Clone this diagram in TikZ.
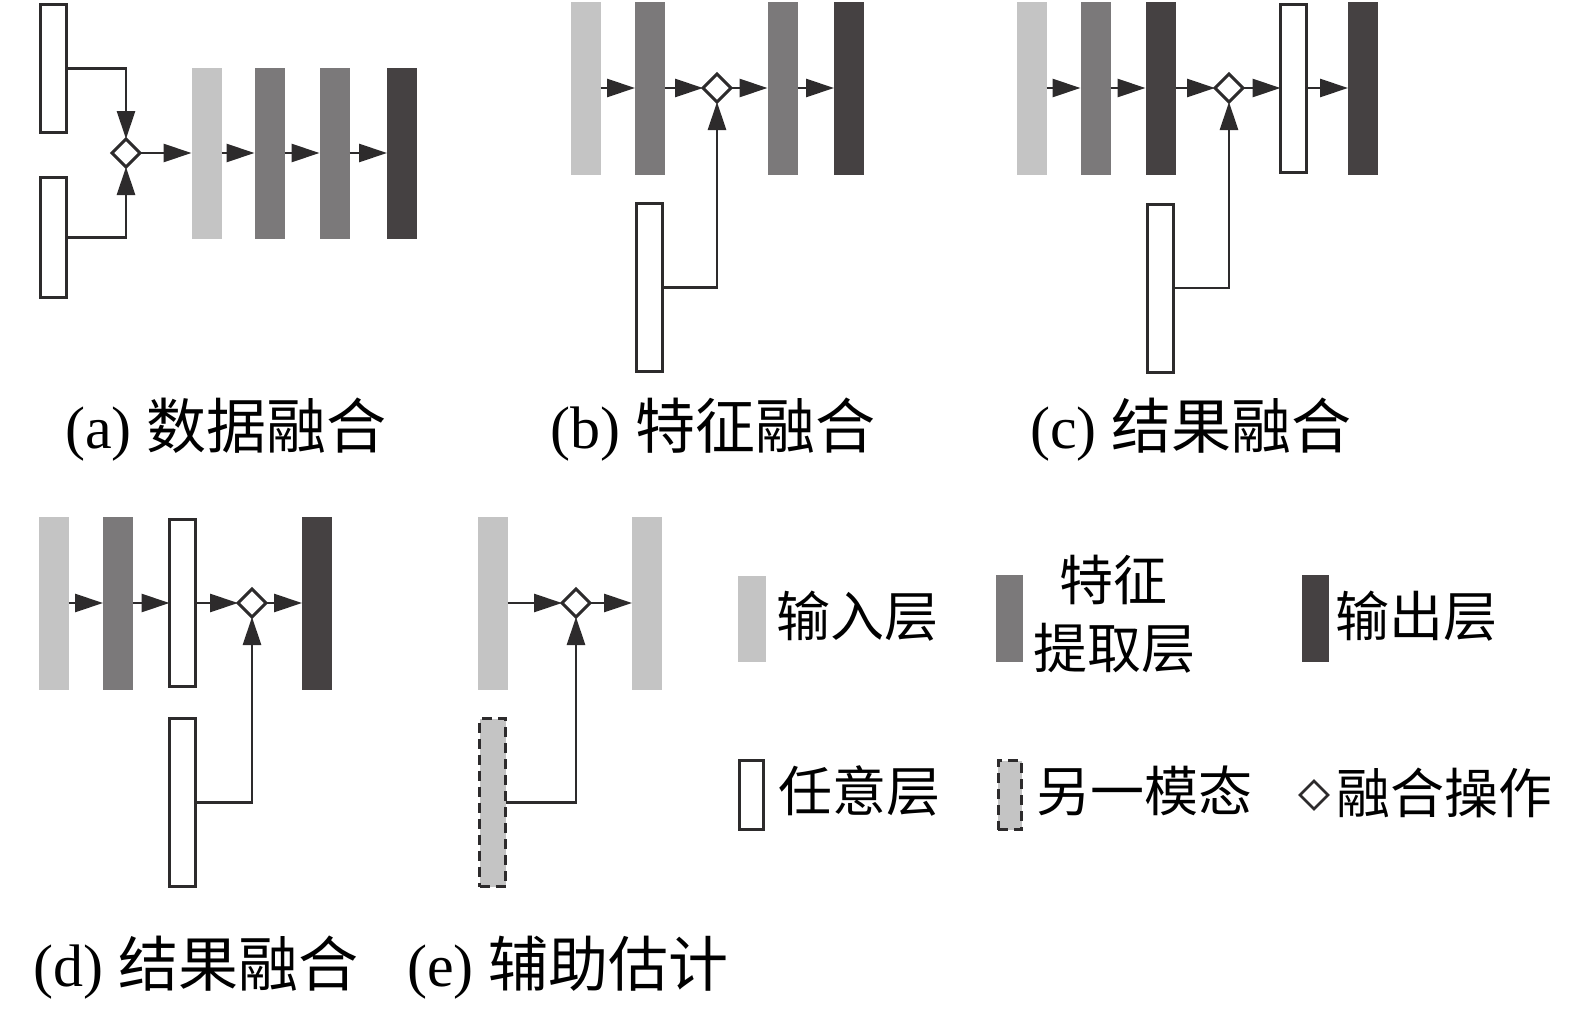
\documentclass[tikz,border=0pt]{standalone}
\usepackage{fontspec}
\setmainfont{Liberation Serif}
\newfontfamily\cjk{Noto Sans CJK SC}
\usetikzlibrary{shapes.geometric, arrows.meta}
\definecolor{lightg}{RGB}{196,196,196}
\definecolor{midg}{RGB}{123,121,122}
\definecolor{darkg}{RGB}{69,65,66}
\definecolor{linec}{RGB}{45,43,44}
\begin{document}
\begin{tikzpicture}[x=0.5pt,y=-0.5pt,
  layer/.style={rectangle, inner sep=0pt, outer sep=0pt, minimum width=15pt, minimum height=86.5pt},
  inl/.style={layer, fill=lightg},
  fel/.style={layer, fill=midg},
  outl/.style={layer, fill=darkg},
  anyl/.style={layer, draw=linec, line width=1.5pt, fill=white, minimum width=13pt, minimum height=84pt},
  othl/.style={layer, draw=linec, line width=1.4pt, dash pattern=on 5pt off 3pt, fill=lightg, minimum width=13pt, minimum height=84pt},
  fuse/.style={diamond, draw=linec, line width=1.5pt, fill=white, inner sep=0pt, outer sep=0pt, minimum width=14pt, minimum height=14pt},
  flow/.style={draw=linec, line width=1.4pt, -{Triangle[length=14pt 0 0,width=9pt 0 0]}},
  capt/.style={inner sep=0pt, font=\fontsize{30pt}{36pt}\selectfont},
  leg/.style={inner sep=0pt, font=\fontsize{27pt}{32pt}\selectfont\cjk}
]
\useasboundingbox (0,0) rectangle (1575,1012);

% ---------- (a) ----------
\node[anyl, minimum height=64pt] (a1) at (53.5,68.5) {};
\node[anyl, minimum height=60pt] (a2) at (53.5,237.5) {};
\node[fuse] (da) at (126,153) {};
\node[inl, minimum height=85.5pt] (ab1) at (206.5,153) {};
\node[fel, minimum height=85.5pt] (ab2) at (269.5,153) {};
\node[fel, minimum height=85.5pt] (ab3) at (334.5,153) {};
\node[outl, minimum height=85.5pt] (ab4) at (402,153) {};
\draw[flow] (a1.east) -| (da.north);
\draw[flow] (a2.east) -| (da.south);
\draw[flow] (da.east) -- (ab1.west);
\draw[flow] (ab1.east) -- (ab2.west);
\draw[flow] (ab2.east) -- (ab3.west);
\draw[flow] (ab3.east) -- (ab4.west);
\node[capt] (capa) at (226,430) {(a) {\cjk 数据融合}};

% ---------- (b) ----------
\node[inl] (b1) at (585.5,88) {};
\node[fel] (b2) at (650,88) {};
\node[fuse] (db) at (717,88) {};
\node[fel] (b3) at (782.5,88) {};
\node[outl] (b4) at (849,88) {};
\node[anyl] (b5) at (649.5,287.5) {};
\draw[flow] (b1.east) -- (b2.west);
\draw[flow] (b2.east) -- (db.west);
\draw[flow] (db.east) -- (b3.west);
\draw[flow] (b3.east) -- (b4.west);
\draw[flow] (b5.east) -| (db.south);
\node[capt] (capb) at (713,430) {(b) {\cjk 特征融合}};

% ---------- (c) ----------
\node[inl] (c1) at (1031.5,88) {};
\node[fel] (c2) at (1095.5,88) {};
\node[outl] (c3) at (1160.5,88) {};
\node[fuse] (dc) at (1229,88) {};
\node[anyl] (c4) at (1293.5,88) {};
\node[outl] (c5) at (1363,88) {};
\node[anyl] (c6) at (1160.5,288) {};
\draw[flow] (c1.east) -- (c2.west);
\draw[flow] (c2.east) -- (c3.west);
\draw[flow] (c3.east) -- (dc.west);
\draw[flow] (dc.east) -- (c4.west);
\draw[flow] (c4.east) -- (c5.west);
\draw[flow] (c6.east) -| (dc.south);
\node[capt] (capc) at (1191,430) {(c) {\cjk 结果融合}};

% ---------- (d) ----------
\node[inl] (d1) at (53.5,603) {};
\node[fel] (d2) at (118,603) {};
\node[anyl, minimum height=83.5pt] (d3) at (182.5,603) {};
\node[fuse] (dd) at (252,603) {};
\node[outl] (d4) at (317,603) {};
\node[anyl] (d5) at (182.5,802.5) {};
\draw[flow] (d1.east) -- (d2.west);
\draw[flow] (d2.east) -- (d3.west);
\draw[flow] (d3.east) -- (dd.west);
\draw[flow] (dd.east) -- (d4.west);
\draw[flow] (d5.east) -| (dd.south);
\node[capt] (capd) at (196,968) {(d) {\cjk 结果融合}};

% ---------- (e) ----------
\node[inl] (e1) at (492.5,603) {};
\node[fuse] (de) at (576,603) {};
\node[inl] (e2) at (647,603) {};
\node[othl] (e3) at (492.5,802.5) {};
\draw[flow] (e1.east) -- (de.west);
\draw[flow] (de.east) -- (e2.west);
\draw[flow] (e3.east) -| (de.south);
\node[capt] (cape) at (568,968) {(e) {\cjk 辅助估计}};

% ---------- legend ----------
\node[inl, minimum width=14pt, minimum height=43pt] (l1) at (752,619) {};
\node[leg, anchor=west] (t1) at (776,616) {输入层};
\node[fel, minimum width=13.5pt, minimum height=43.5pt] (l2) at (1009.5,618.5) {};
\node[leg] (t2a) at (1113,580) {特征};
\node[leg] (t2b) at (1114,648) {提取层};
\node[outl, minimum width=13.5pt, minimum height=43.5pt] (l3) at (1315.5,618.5) {};
\node[leg, anchor=west] (t3) at (1335,616) {输出层};
\node[anyl, minimum width=12pt, minimum height=34.5pt] (l4) at (751.5,795) {};
\node[leg, anchor=west] (t4) at (778,791) {任意层};
\node[othl, minimum width=11.6pt, minimum height=34.5pt] (l5) at (1010,795) {};
\node[leg, anchor=west] (t5) at (1036,791) {另一模态};
\node[fuse, line width=1.3pt, minimum width=14pt, minimum height=14pt] (l6) at (1314,795) {};
\node[leg, anchor=west] (t6) at (1336,793) {融合操作};
\end{tikzpicture}
\end{document}
